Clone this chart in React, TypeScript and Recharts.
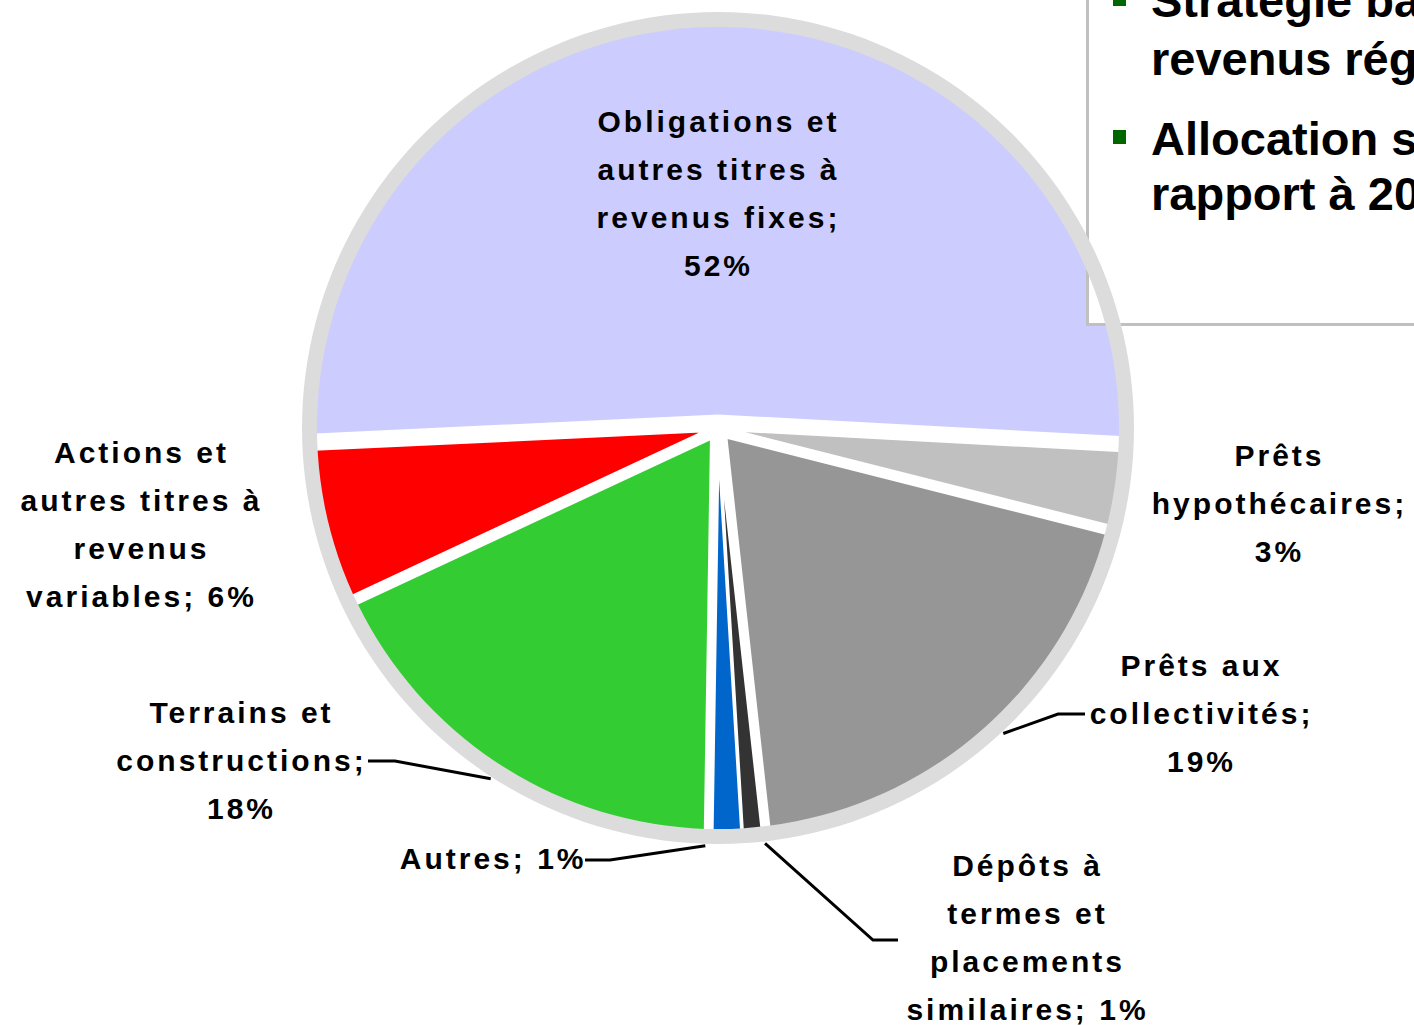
import React from "react";
import { Cell, Pie, PieChart, Sector } from "recharts";

const categories = [
  "Obligations et autres titres à revenus fixes",
  "Prêts hypothécaires",
  "Prêts aux collectivités",
  "Dépôts à termes et placements similaires",
  "Autres",
  "Terrains et constructions",
  "Actions et autres titres à revenus variables",
];
const shares = [51.6, 3.1, 19.3, 0.8, 1.2, 17.8, 6.2];
const sliceColors = ["#ccccff", "#c0c0c0", "#969696", "#333333", "#0066cc", "#33cc33", "#ff0000"];

// label text as broken on the slide; percent goes on its own line or at the end of the last one
const labelLines = [
  ["Obligations et", "autres titres à", "revenus fixes;"],
  ["Prêts", "hypothécaires;"],
  ["Prêts aux", "collectivités;"],
  ["Dépôts à", "termes et", "placements", "similaires;"],
  ["Autres;"],
  ["Terrains et", "constructions;"],
  ["Actions et", "autres titres à", "revenus", "variables;"],
];
const pctInline = [false, false, false, true, true, false, true];

const data = categories.map((name, i) => ({ name, value: shares[i] }));
const total = shares.reduce((a, b) => a + b, 0);

// layout (offsets from the pie centre)
const CX = 718;
const CY = 428;
const FONT = "'Liberation Sans', Arial, Helvetica, sans-serif";
const LS = 3;
const LINE_H = 48;
const EXPLODE = 12;
type Lay = { x: number; y: number; anchor?: "middle" | "end"; elbow?: [number, number]; end?: number; shift?: number };
const labelLayout: Lay[] = [
  { x: -1, y: -296 },
  { x: 560, y: 38 },
  { x: 482, y: 248, elbow: [340, 286], end: 367, shift: 2 },
  { x: 308, y: 448, elbow: [155, 512], end: 180, shift: 1.6 },
  { x: -133, y: 441, anchor: "end", elbow: [-108, 432], end: -133, shift: -3 },
  { x: -478, y: 295, elbow: [-323, 333], end: -350 },
  { x: -578, y: 35 },
];

const RADIAN = Math.PI / 180;

// exploded slice: each sector pushed out along its mid angle
const renderSlice = (props: any) => {
  const { cx, cy, startAngle, endAngle } = props;
  const mid = ((startAngle + endAngle) / 2) * RADIAN;
  return (
    <Sector
      {...props}
      cx={cx + EXPLODE * Math.cos(-mid)}
      cy={cy + EXPLODE * Math.sin(-mid)}
      stroke="#ffffff"
      strokeWidth={3}
    />
  );
};

const renderLabel = (props: any) => {
  const { cx, cy, midAngle, index, value } = props;
  const lay = labelLayout[index];
  const pct = `${Math.round((value / total) * 100)}%`;
  const lines = [...labelLines[index]];
  if (pctInline[index]) lines[lines.length - 1] = `${lines[lines.length - 1]} ${pct}`;
  else lines.push(pct);
  const anchor = lay.anchor || "middle";
  const tx = cx + lay.x + LS / 2;
  let leader = null;
  if (lay.elbow) {
    const a = (midAngle + (lay.shift || 0)) * RADIAN;
    const sx = cx + 418 * Math.cos(-a);
    const sy = cy + 418 * Math.sin(-a);
    const ex = cx + lay.elbow[0];
    const ey = cy + lay.elbow[1];
    leader = (
      <polyline
        points={`${sx},${sy} ${ex},${ey} ${cx + (lay.end as number)},${ey}`}
        fill="none"
        stroke="#000"
        strokeWidth={3}
      />
    );
  }
  return (
    <g key={`lab-${index}`}>
      {leader}
      <text
        x={tx}
        y={cy + lay.y}
        textAnchor={anchor}
        fill="#000"
        style={{ fontFamily: FONT, fontWeight: 700, fontSize: 30, letterSpacing: LS }}
      >
        {lines.map((l, i) => (
          <tspan key={i} x={tx} y={cy + lay.y + i * LINE_H}>
            {l}
          </tspan>
        ))}
      </text>
    </g>
  );
};

const ringData = [{ name: "ring", value: 1 }];
const W = 1414;
const H = 1025;
const noMargin = { top: 0, right: 0, bottom: 0, left: 0 };

const App = () => {
  return (
    <div style={{ position: "absolute", left: 0, top: 0, width: W, height: H, overflow: "hidden", background: "#fff" }}>
      <div style={{ position: "absolute", left: 0, top: 0 }}>
        <PieChart width={W} height={H} margin={noMargin}>
          <Pie
            data={data}
            dataKey="value"
            nameKey="name"
            cx={CX}
            cy={CY}
            outerRadius={403}
            startAngle={182.7}
            endAngle={-177.3}
            stroke="#ffffff"
            strokeWidth={3}
            shape={renderSlice}
            labelLine={false}
            label={renderLabel}
            isAnimationActive={false}
          >
            {data.map((d, i) => (
              <Cell key={`cell-${i}`} fill={sliceColors[i]} />
            ))}
          </Pie>
        </PieChart>
      </div>

      {/* text box from the slide, sits over the pie */}
      <div
        style={{
          position: "absolute",
          left: 1086,
          top: -20,
          width: 400,
          height: 346,
          boxSizing: "border-box",
          border: "3px solid #c0c0c0",
          background: "#fff",
        }}
      />
      {[
        { top: -22, text: "Stratégie basée sur des", bullet: true },
        { top: 36, text: "revenus réguliers", bullet: false },
        { top: 116, text: "Allocation stable par", bullet: true },
        { top: 171, text: "rapport à 2009", bullet: false },
      ].map((l, i) => (
        <React.Fragment key={i}>
          {l.bullet && (
            <div style={{ position: "absolute", left: 1113, top: l.top + 14, width: 13, height: 14, background: "#006600" }} />
          )}
          <div
            style={{
              position: "absolute",
              left: 1151,
              top: l.top,
              fontFamily: FONT,
              fontWeight: 700,
              fontSize: 47,
              lineHeight: "46px",
              whiteSpace: "nowrap",
              color: "#000",
            }}
          >
            {l.text}
          </div>
        </React.Fragment>
      ))}

      {/* grey rim around the pie, drawn on top of the box */}
      <div style={{ position: "absolute", left: 0, top: 0, pointerEvents: "none" }}>
        <PieChart width={W} height={H} margin={noMargin}>
          <Pie
            data={ringData}
            dataKey="value"
            cx={CX}
            cy={CY}
            innerRadius={401}
            outerRadius={416}
            fill="#dcdcdc"
            stroke="none"
            isAnimationActive={false}
          />
        </PieChart>
      </div>
    </div>
  );
};

export default App;
